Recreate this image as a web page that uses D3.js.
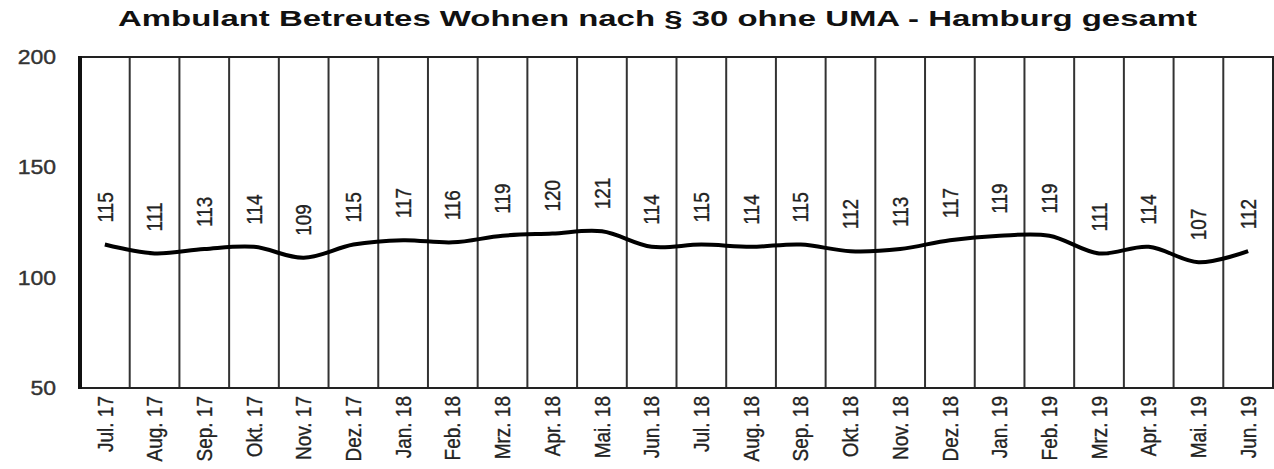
<!DOCTYPE html>
<html>
<head>
<meta charset="utf-8">
<script src="https://cdn.jsdelivr.net/npm/d3@7"></script>
<style>
  body { margin: 0; background: #fff; }
  svg text { font-family: "Liberation Sans", Arial, sans-serif; }
</style>
</head>
<body>
<div id="chart"></div>
<script>
const chartTitle = "Ambulant Betreutes Wohnen nach § 30 ohne UMA - Hamburg gesamt";
const months = ["Jul. 17", "Aug. 17", "Sep. 17", "Okt. 17", "Nov. 17", "Dez. 17",
    "Jan. 18", "Feb. 18", "Mrz. 18", "Apr. 18", "Mai. 18", "Jun. 18",
    "Jul. 18", "Aug. 18", "Sep. 18", "Okt. 18", "Nov. 18", "Dez. 18",
    "Jan. 19", "Feb. 19", "Mrz. 19", "Apr. 19", "Mai. 19", "Jun. 19"];
const values = [115, 111, 113, 114, 109, 115, 117, 116, 119, 120, 121, 114,
    115, 114, 115, 112, 113, 117, 119, 119, 111, 114, 107, 112];
const yTicks = [50, 100, 150, 200];

const W = 1274, H = 469;
const margin = { top: 57, right: 1, bottom: 81, left: 80 };
const width = W - margin.left - margin.right;
const height = H - margin.top - margin.bottom;

const svg = d3.select("#chart").append("svg")
    .attr("width", W)
    .attr("height", H);

svg.append("text")
    .attr("x", 118)
    .attr("y", 26)
    .attr("textLength", 1079)
    .attr("lengthAdjust", "spacingAndGlyphs")
    .style("font-size", "22px")
    .style("font-weight", "bold")
    .attr("fill", "#111")
    .text(chartTitle);

const g = svg.append("g")
    .attr("transform", `translate(${margin.left},${margin.top})`);

const x = d3.scaleBand()
    .domain(months)
    .range([0, width]);

const y = d3.scaleLinear()
    .domain([50, 200])
    .range([height, 0]);

// vertical divider lines between months
g.selectAll(".divider")
    .data(months.slice(1))
    .enter()
    .append("line")
    .attr("x1", d => x(d))
    .attr("x2", d => x(d))
    .attr("y1", 0)
    .attr("y2", height)
    .attr("stroke", "#333")
    .attr("stroke-width", 2);

// frame
g.append("rect")
    .attr("x", 0).attr("y", 0)
    .attr("width", width).attr("height", height)
    .attr("fill", "none")
    .attr("stroke", "#222")
    .attr("stroke-width", 2);
g.append("line")
    .attr("x1", 0).attr("x2", 0)
    .attr("y1", -1).attr("y2", height + 1)
    .attr("stroke", "#111")
    .attr("stroke-width", 4);

// y axis labels
const yAxis = g.append("g")
    .call(d3.axisLeft(y).tickValues(yTicks).tickSize(0).tickPadding(24));
yAxis.select(".domain").remove();
yAxis.selectAll("text")
    .style("font-size", "20px")
    .attr("fill", "#333")
    .attr("stroke", "#333")
    .attr("stroke-width", 0.4)
    .attr("transform", "scale(1.15,1)")
    .attr("x", -24 / 1.15);

// x axis labels, rotated
const xAxis = g.append("g")
    .attr("transform", `translate(0,${height})`)
    .call(d3.axisBottom(x).tickSize(0));
xAxis.select(".domain").remove();
xAxis.selectAll("text")
    .style("font-size", "19px")
    .attr("fill", "#222")
    .attr("stroke", "#222")
    .attr("stroke-width", 0.3)
    .attr("text-anchor", "end")
    .attr("dy", "0.35em")
    .attr("x", 0).attr("y", 0)
    .attr("transform", "translate(0,8) scale(1.15,1) rotate(-90)");

// smoothed line
const line = d3.line()
    .x((d, i) => x(months[i]) + x.bandwidth() / 2)
    .y(d => y(d))
    .curve(d3.curveCatmullRom);

g.append("path")
    .datum(values)
    .attr("d", line)
    .attr("fill", "none")
    .attr("stroke", "#000")
    .attr("stroke-width", 4);

// value labels
g.selectAll(".val")
    .data(values)
    .enter()
    .append("text")
    .attr("text-anchor", "start")
    .attr("dy", "0.35em")
    .attr("transform", (d, i) =>
        `translate(${x(months[i]) + x.bandwidth() / 2},${y(d) - 22}) scale(1.15,1) rotate(-90)`)
    .style("font-size", "19px")
    .attr("fill", "#222")
    .attr("stroke", "#222")
    .attr("stroke-width", 0.3)
    .text(d => d);
</script>
</body>
</html>
